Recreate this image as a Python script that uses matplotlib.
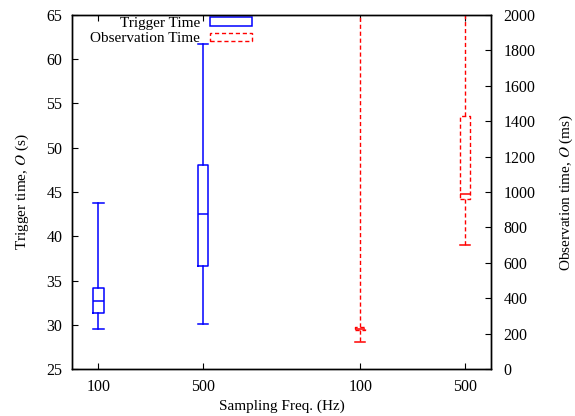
import matplotlib.pyplot as plt
from matplotlib.patches import Rectangle

plt.rcParams['font.family'] = ['Liberation Serif', 'DejaVu Serif']
plt.rcParams['mathtext.fontset'] = 'stix'
plt.rcParams['font.size'] = 11

# box summaries: whisker low, q1, median, q3, whisker high
freq_labels = ['100', '500', '100', '500']

trigger_pos = [1, 2]
trigger_low = [29.55, 30.15]
trigger_q1 = [31.4, 36.6]
trigger_med = [32.75, 42.5]
trigger_q3 = [34.15, 48.1]
trigger_high = [43.8, 61.7]

obs_pos = [3.5, 4.5]
obs_low = [152, 703]
obs_q1 = [222, 960]
obs_med = [228, 987]
obs_q3 = [236, 1429]
obs_high = [2600, 2600]


def make_stats(low, q1, med, q3, high):
    return [dict(whislo=a, q1=b, med=c, q3=d, whishi=e, fliers=[])
            for a, b, c, d, e in zip(low, q1, med, q3, high)]


blue = '#0000ff'
red = '#ff0000'
dash = (0, (3, 2))

fig = plt.figure(figsize=(5.75, 4.16), dpi=100)
ax = fig.add_axes([0.1257, 0.1123, 0.7283, 0.8524])
ax2 = ax.twinx()

ax.bxp(make_stats(trigger_low, trigger_q1, trigger_med, trigger_q3, trigger_high),
       positions=trigger_pos, widths=0.1, showfliers=False,
       boxprops=dict(color=blue, lw=1.1),
       whiskerprops=dict(color=blue, lw=1.1),
       capprops=dict(color=blue, lw=1.1),
       medianprops=dict(color=blue, lw=1.1),
       capwidths=0.1)

ax2.bxp(make_stats(obs_low, obs_q1, obs_med, obs_q3, obs_high),
        positions=obs_pos, widths=0.1, showfliers=False,
        boxprops=dict(color=red, lw=1.0, linestyle=dash),
        whiskerprops=dict(color=red, lw=1.0, linestyle=dash),
        capprops=dict(color=red, lw=1.1),
        medianprops=dict(color=red, lw=1.1),
        capwidths=0.1)

ax.set_xlim(0.75, 4.75)
ax.set_ylim(25, 65)
ax2.set_ylim(0, 2000)
ax.set_xticks(trigger_pos + obs_pos)
ax.set_xticklabels(freq_labels)
ax.set_yticks(range(25, 66, 5))
ax2.set_yticks(range(0, 2001, 200))

ax.tick_params(axis='x', direction='in', length=4, top=True, pad=7, labelsize=11.5)
ax.tick_params(axis='y', direction='in', length=4, pad=7, labelsize=11.5)
ax2.tick_params(axis='y', direction='in', length=4, pad=9, labelsize=11.5)
for a in (ax, ax2):
    for s in a.spines.values():
        s.set_linewidth(1.0)

ax.set_xlabel('Sampling Freq. (Hz)', labelpad=3)
ax.set_ylabel('Trigger time, $O$ (s)', labelpad=11)
ax2.set_ylabel('Observation time, $O$ (ms)', labelpad=16)

# key in the top-left corner, text to the left of each sample
tr = ax.transAxes
ax.text(0.305, 0.976, 'Trigger Time', transform=tr, ha='right', va='center')
ax.text(0.305, 0.932, 'Observation Time', transform=tr, ha='right', va='center')
ax.add_patch(Rectangle((0.329, 0.969), 0.0995, 0.0235, transform=tr,
                       fill=False, edgecolor=blue, lw=1.1, clip_on=False))
ax.add_patch(Rectangle((0.329, 0.926), 0.0995, 0.022, transform=tr,
                       fill=False, edgecolor=red, lw=1.0, linestyle=dash,
                       clip_on=False))

fig.savefig('out.png', dpi=100)
